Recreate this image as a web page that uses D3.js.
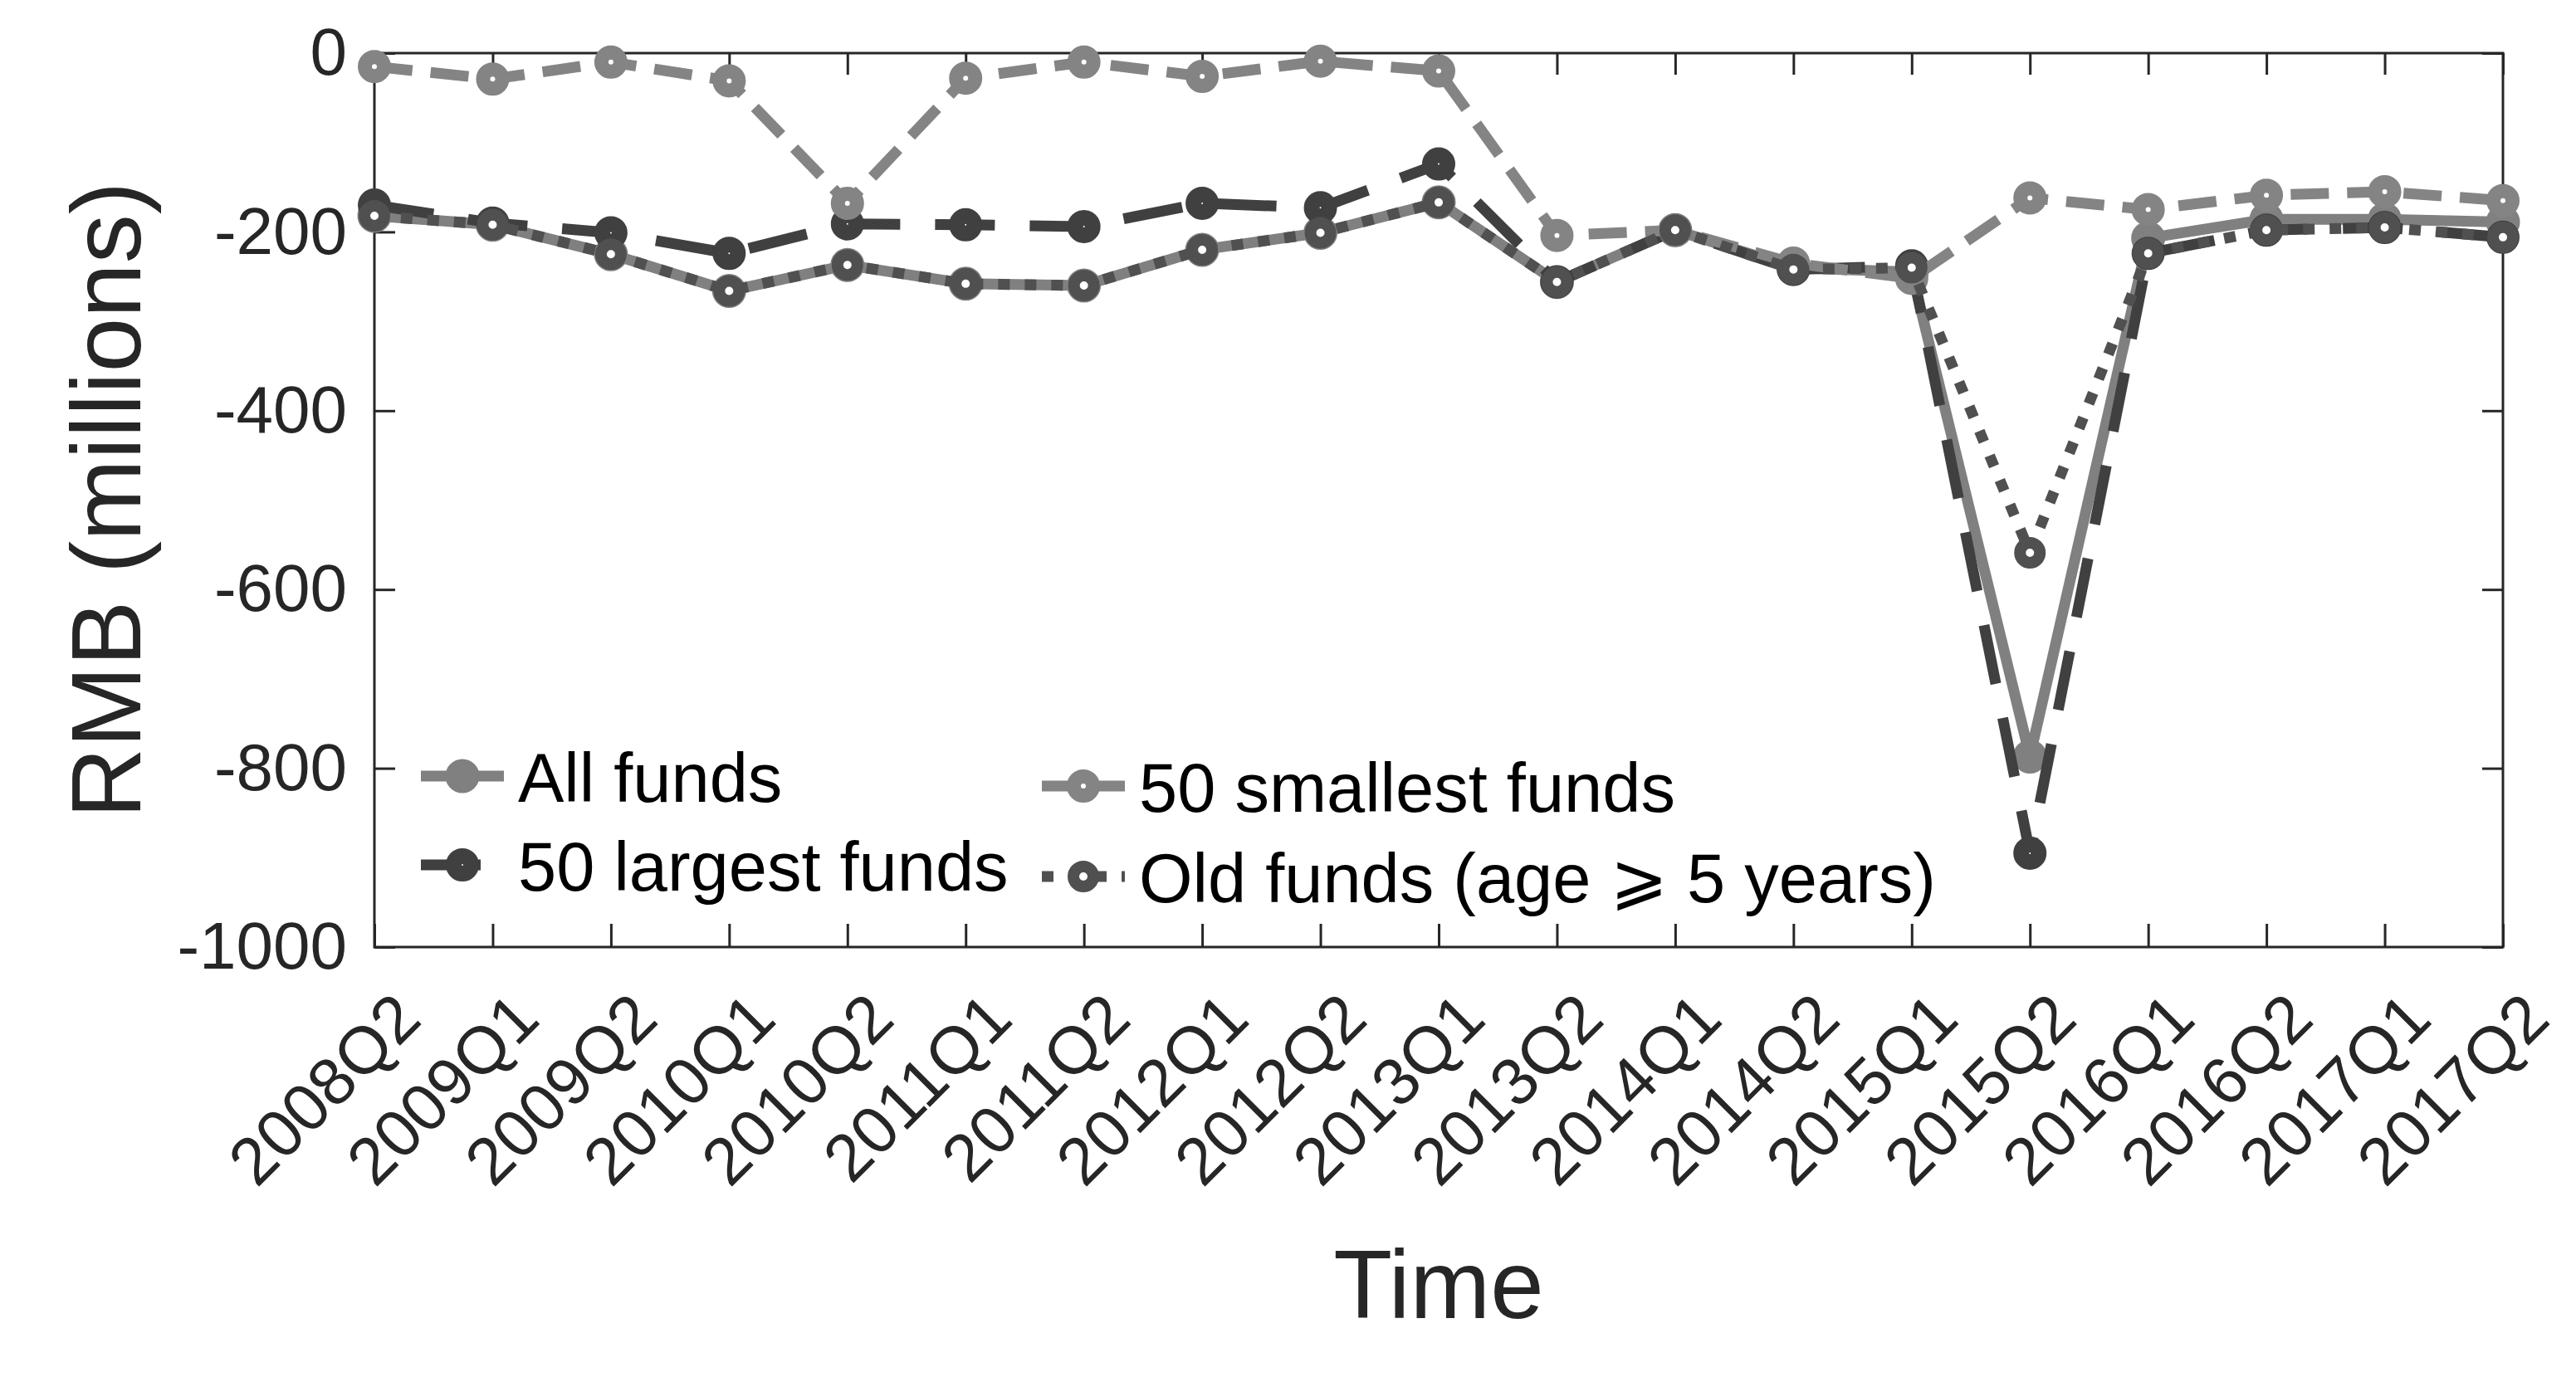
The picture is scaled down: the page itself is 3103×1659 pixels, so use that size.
<!DOCTYPE html>
<html>
<head>
<meta charset="utf-8">
<script src="https://cdn.jsdelivr.net/npm/d3@7"></script>
<style>
  body { margin: 0; background: #fff; }
  text { font-family: "Liberation Sans", Arial, "DejaVu Sans", sans-serif; }
</style>
</head>
<body>
<div id="chart"></div>
<script>
const WIDTH = 3103;
const HEIGHT = 1659;

// quarters on the x axis
const quarters = ["2008Q2", "2009Q1", "2009Q2", "2010Q1", "2010Q2", "2011Q1", "2011Q2",
  "2012Q1", "2012Q2", "2013Q1", "2013Q2", "2014Q1", "2014Q2", "2015Q1", "2015Q2",
  "2016Q1", "2016Q2", "2017Q1", "2017Q2"];

// RMB millions
const allFunds = [-182, -192, -225, -266, -237, -258, -260, -220, -201, -167, -256, -198, -240, -245, -787, -207, -186, -186, -189];
const largestFunds = [-170, -190, -201, -224, -191, -192, -194, -168, -173, -124, -256, -198, -242, -238, -895, -224, -198, -195, -206];
const smallestFunds = [-15, -29, -10, -31, -168, -28, -10, -26, -9, -20, -204, -198, -235, -252, -162, -175, -159, -155, -165];
const oldFunds = [-182, -192, -225, -266, -237, -258, -260, -220, -201, -167, -256, -198, -242, -240, -559, -224, -198, -195, -206];

const yTicks = [0, -200, -400, -600, -800, -1000];

const series = [
  {name: "All funds", values: allFunds, color: "#808080", dash: null, r: 10, sw: 21, hole: 0},
  {name: "50 largest funds", values: largestFunds, color: "#404040", dash: "72,42", r: 10.5, sw: 19, hole: 1.5},
  {name: "50 smallest funds", values: smallestFunds, color: "#848484", dash: "46,22", r: 11.5, sw: 17, hole: 3},
  {name: "Old funds (age \u2A7E 5 years)", values: oldFunds, color: "#505050", dash: "14,18", r: 12, sw: 14, hole: 5}
];

const plotLeft = 451, plotRight = 3015, plotTop = 64, plotBottom = 1141;
const axisColor = "#262626";

const svg = d3.select("#chart")
  .append("svg")
  .attr("width", WIDTH)
  .attr("height", HEIGHT)
  .attr("viewBox", [0, 0, WIDTH, HEIGHT]);

const x = d3.scalePoint().domain(quarters).range([plotLeft, plotRight]);
const y = d3.scaleLinear().domain([-1000, 0]).range([plotBottom, plotTop]);

// axes, ticks drawn inward like the original
const styleAxis = g => {
  g.select(".domain").remove();
  g.selectAll(".tick line").attr("stroke", axisColor).attr("stroke-width", 3);
  g.selectAll(".tick text").attr("fill", axisColor).style("font-size", "80px");
};

svg.append("g")
  .attr("transform", `translate(${plotLeft},0)`)
  .call(d3.axisLeft(y).tickValues(yTicks).tickSize(-25).tickPadding(33).tickFormat(d => String(d)))
  .call(styleAxis);

svg.append("g")
  .attr("transform", `translate(${plotRight},0)`)
  .call(d3.axisRight(y).tickValues(yTicks).tickSize(-25).tickFormat(""))
  .call(styleAxis);

svg.append("g")
  .attr("transform", `translate(0,${plotTop})`)
  .call(d3.axisTop(x).tickSize(-26).tickFormat(""))
  .call(styleAxis);

const xAxis = svg.append("g")
  .attr("transform", `translate(0,${plotBottom})`)
  .call(d3.axisBottom(x).tickSize(-28))
  .call(styleAxis);

xAxis.selectAll(".tick text")
  .attr("x", 0)
  .attr("y", 0)
  .attr("dy", null)
  .attr("text-anchor", "end")
  .attr("transform", "translate(59,90) rotate(-45)");

svg.append("rect")
  .attr("x", plotLeft)
  .attr("y", plotTop)
  .attr("width", plotRight - plotLeft)
  .attr("height", plotBottom - plotTop)
  .attr("fill", "none")
  .attr("stroke", axisColor)
  .attr("stroke-width", 3);

// series
const line = d3.line()
  .x((d, i) => x(quarters[i]))
  .y(d => y(d));

series.forEach(s => {
  const g = svg.append("g");
  g.append("path")
    .datum(s.values)
    .attr("d", line)
    .attr("fill", "none")
    .attr("stroke", s.color)
    .attr("stroke-width", 13)
    .attr("stroke-dasharray", s.dash)
    .attr("stroke-linecap", "butt");

  g.selectAll("circle")
    .data(s.values)
    .enter().append("circle")
    .attr("cx", (d, i) => x(quarters[i]))
    .attr("cy", d => y(d))
    .attr("r", s.r)
    .attr("fill", s.hole > 0 ? "#fff" : s.color)
    .attr("stroke", s.color)
    .attr("stroke-width", s.sw);
});

// legend, two columns
const legendPos = [
  {x: 507, y: 935},
  {x: 507, y: 1042},
  {x: 1255, y: 947},
  {x: 1255, y: 1056}
];

series.forEach((s, i) => {
  const p = legendPos[i];
  const lg = svg.append("g").attr("transform", `translate(${p.x},${p.y})`);
  lg.append("line")
    .attr("x1", 0).attr("x2", 100)
    .attr("stroke", s.color)
    .attr("stroke-width", 13)
    .attr("stroke-dasharray", s.dash);
  lg.append("circle")
    .attr("cx", 50)
    .attr("r", s.r)
    .attr("fill", s.hole > 0 ? "#fff" : s.color)
    .attr("stroke", s.color)
    .attr("stroke-width", s.sw);
  lg.append("text")
    .attr("x", 117)
    .attr("y", 31)
    .attr("fill", "#000")
    .style("font-size", "83px")
    .text(s.name);
});

// axis titles
svg.append("text")
  .attr("transform", `translate(169,${(plotTop + plotBottom) / 2}) rotate(-90)`)
  .attr("text-anchor", "middle")
  .attr("fill", axisColor)
  .style("font-size", "118px")
  .text("RMB (millions)");

svg.append("text")
  .attr("x", (plotLeft + plotRight) / 2)
  .attr("y", 1588)
  .attr("text-anchor", "middle")
  .attr("fill", axisColor)
  .style("font-size", "116px")
  .text("Time");
</script>
</body>
</html>
